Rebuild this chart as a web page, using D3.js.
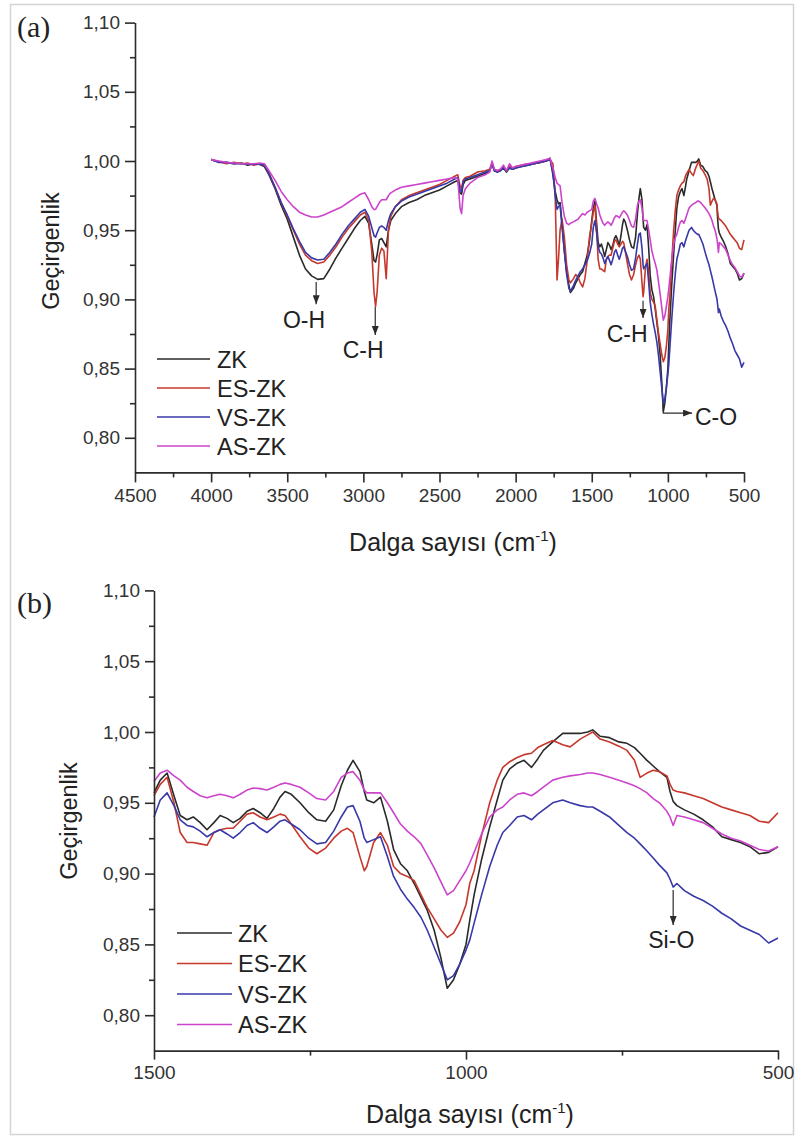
<!DOCTYPE html>
<html>
<head>
<meta charset="utf-8">
<script src="https://cdn.jsdelivr.net/npm/d3@7"></script>
<style>
  html, body { margin: 0; padding: 0; background: #fff; }
  svg { display: block; font-family: "Liberation Sans", Arial, sans-serif; }
</style>
</head>
<body>
<svg id="chart" width="795" height="1137"></svg>
<script>
// FTIR spectra: wavenumber (cm-1) and transmittance of each sample
const waveNumber = [
  4000, 3950, 3900, 3850, 3800, 3760, 3720, 3680, 3650, 3620,
  3580, 3540, 3500, 3460, 3420, 3380, 3340, 3300, 3260, 3220,
  3180, 3140, 3100, 3060, 3020, 2990, 2965, 2945, 2930, 2920,
  2910, 2895, 2880, 2865, 2850, 2835, 2820, 2790, 2750, 2700,
  2650, 2600, 2550, 2500, 2450, 2400, 2380, 2365, 2355, 2345,
  2330, 2300, 2250, 2200, 2170, 2155, 2140, 2120, 2100, 2080,
  2060, 2040, 2020, 2000, 1960, 1920, 1880, 1840, 1800, 1774,
  1755, 1740, 1728, 1718, 1708, 1695, 1680, 1665, 1650, 1640,
  1620, 1605, 1590, 1575, 1560, 1545, 1530, 1515,
  1500, 1490, 1479, 1468, 1458, 1447, 1437, 1426, 1415, 1404,
  1394, 1383, 1373, 1362, 1351, 1341, 1330, 1319, 1308, 1298,
  1290, 1280, 1266, 1252, 1239, 1225, 1212, 1200, 1190, 1181,
  1170, 1163, 1159, 1148, 1137, 1126, 1116, 1105, 1094, 1083,
  1072, 1062, 1051, 1040, 1030, 1020, 1010, 1000, 994, 987,
  975, 962, 950, 941, 930, 918, 907, 895, 885, 876,
  861, 845, 833, 817, 805, 797, 785, 770, 755, 742,
  730, 721, 710, 700, 690, 678, 673, 668, 662, 650,
  635, 620, 605, 590, 575, 560, 545, 530, 515, 500
];

const zk = [
  1.001, 0.9995, 0.999, 0.998, 0.9985, 0.997, 0.998, 0.9975, 0.996, 0.990,
  0.980, 0.968, 0.958, 0.945, 0.932, 0.922, 0.917, 0.9145, 0.915, 0.922,
  0.930, 0.937, 0.944, 0.951, 0.957, 0.960, 0.955, 0.940, 0.928, 0.927,
  0.932, 0.943, 0.944, 0.941, 0.938, 0.950, 0.957, 0.962, 0.967, 0.970,
  0.972, 0.975, 0.977, 0.979, 0.982, 0.985, 0.986, 0.977, 0.976, 0.983,
  0.986, 0.987, 0.989, 0.991, 0.993, 0.998, 0.993, 0.992, 0.993, 0.995,
  0.992, 0.995, 0.994, 0.995, 0.996, 0.997, 0.998, 0.999, 1.000, 1.002,
  0.990, 0.978, 0.972, 0.969, 0.970, 0.955, 0.935, 0.920, 0.910, 0.905,
  0.908, 0.912, 0.915, 0.918, 0.920, 0.926, 0.932, 0.942,
  0.957, 0.966, 0.971, 0.955, 0.941, 0.938, 0.940, 0.936, 0.931, 0.936,
  0.941, 0.939, 0.936, 0.939, 0.944, 0.946, 0.943, 0.939, 0.946, 0.954,
  0.958, 0.956, 0.950, 0.943, 0.938, 0.937, 0.945, 0.962, 0.973, 0.980,
  0.972, 0.958, 0.952, 0.950, 0.954, 0.937, 0.917, 0.907, 0.902, 0.893,
  0.883, 0.874, 0.860, 0.840, 0.819, 0.825, 0.836, 0.850, 0.867, 0.885,
  0.910, 0.933, 0.952, 0.966, 0.974, 0.978, 0.980, 0.975, 0.981, 0.987,
  0.993, 0.999, 0.999, 0.999, 1.000, 1.0015, 0.997, 0.996, 0.993, 0.992,
  0.989, 0.985, 0.980, 0.976, 0.972, 0.968, 0.958, 0.951, 0.948, 0.945,
  0.942, 0.938, 0.933, 0.926, 0.924, 0.922, 0.919, 0.914, 0.915, 0.919
];

const esZk = [
  1.001, 0.9995, 0.998, 0.999, 0.998, 0.9985, 0.997, 0.998, 0.997, 0.991,
  0.981, 0.970, 0.960, 0.950, 0.940, 0.932, 0.928, 0.926, 0.927, 0.932,
  0.938, 0.945, 0.951, 0.956, 0.961, 0.963, 0.957, 0.935, 0.905, 0.895,
  0.905, 0.932, 0.937, 0.935, 0.915, 0.950, 0.960, 0.967, 0.972, 0.975,
  0.977, 0.979, 0.981, 0.983, 0.986, 0.989, 0.990, 0.982, 0.980, 0.986,
  0.988, 0.989, 0.992, 0.993, 0.994, 0.999, 0.994, 0.993, 0.994, 0.996,
  0.993, 0.996, 0.995, 0.996, 0.997, 0.998, 0.998, 0.999, 1.000, 1.001,
  0.998, 0.975, 0.914, 0.930, 0.950, 0.958, 0.945, 0.925, 0.914, 0.912,
  0.915, 0.918, 0.916, 0.912, 0.909, 0.915, 0.928, 0.945,
  0.955, 0.963, 0.968, 0.950, 0.929, 0.922, 0.922, 0.921, 0.920, 0.929,
  0.931, 0.932, 0.932, 0.937, 0.942, 0.943, 0.940, 0.938, 0.940, 0.942,
  0.941, 0.935, 0.926, 0.918, 0.914, 0.918, 0.925, 0.930, 0.932, 0.929,
  0.912, 0.902, 0.905, 0.922, 0.929, 0.920, 0.905, 0.900, 0.898, 0.895,
  0.885, 0.876, 0.868, 0.860, 0.855, 0.858, 0.866, 0.878, 0.893, 0.902,
  0.927, 0.950, 0.966, 0.975, 0.979, 0.982, 0.984, 0.985, 0.989, 0.991,
  0.994, 0.991, 0.9895, 0.995, 0.998, 1.000, 0.995, 0.993, 0.990, 0.987,
  0.980, 0.968, 0.971, 0.973, 0.972, 0.969, 0.963, 0.959, 0.958, 0.957,
  0.955, 0.953, 0.950, 0.947, 0.945, 0.943, 0.941, 0.937, 0.936, 0.943
];

const vsZk = [
  1.001, 0.999, 0.999, 0.998, 0.998, 0.998, 0.9975, 0.998, 0.997, 0.991,
  0.981, 0.970, 0.961, 0.951, 0.942, 0.934, 0.930, 0.9285, 0.929, 0.934,
  0.940, 0.947, 0.953, 0.958, 0.963, 0.965, 0.960, 0.952, 0.946, 0.945,
  0.948, 0.952, 0.953, 0.952, 0.950, 0.957, 0.962, 0.967, 0.971, 0.974,
  0.976, 0.978, 0.980, 0.982, 0.984, 0.987, 0.988, 0.979, 0.978, 0.985,
  0.987, 0.988, 0.990, 0.992, 0.993, 0.998, 0.993, 0.992, 0.993, 0.995,
  0.993, 0.995, 0.994, 0.995, 0.996, 0.997, 0.998, 0.999, 1.000, 1.001,
  0.992, 0.975, 0.965, 0.967, 0.968, 0.952, 0.935, 0.918, 0.908, 0.906,
  0.910, 0.914, 0.917, 0.920, 0.922, 0.925, 0.928, 0.933,
  0.940, 0.952, 0.957, 0.948, 0.938, 0.934, 0.933, 0.930, 0.926, 0.929,
  0.931, 0.928, 0.925, 0.929, 0.934, 0.936, 0.932, 0.929, 0.933, 0.937,
  0.938, 0.935, 0.931, 0.925, 0.921, 0.922, 0.930, 0.940, 0.947, 0.948,
  0.937, 0.925, 0.922, 0.924, 0.926, 0.912, 0.898, 0.889, 0.882, 0.876,
  0.869, 0.860, 0.848, 0.836, 0.825, 0.828, 0.836, 0.846, 0.853, 0.865,
  0.885, 0.905, 0.920, 0.929, 0.934, 0.940, 0.941, 0.938, 0.942, 0.945,
  0.950, 0.952, 0.950, 0.948, 0.947, 0.947, 0.944, 0.940, 0.934, 0.929,
  0.925, 0.921, 0.916, 0.911, 0.906, 0.9005, 0.896, 0.8905, 0.893, 0.888,
  0.884, 0.881, 0.877, 0.872, 0.868, 0.863, 0.860, 0.857, 0.851, 0.8545
];

const asZk = [
  1.001, 1.000, 0.999, 0.9985, 0.998, 0.998, 0.998, 0.9985, 0.998, 0.993,
  0.986, 0.978, 0.972, 0.967, 0.963, 0.961, 0.9595, 0.9595, 0.961, 0.963,
  0.965, 0.967, 0.970, 0.973, 0.976, 0.977, 0.972, 0.967, 0.965, 0.965,
  0.967, 0.970, 0.972, 0.972, 0.972, 0.975, 0.977, 0.979, 0.981, 0.982,
  0.983, 0.984, 0.985, 0.986, 0.987, 0.988, 0.987, 0.966, 0.962, 0.975,
  0.980, 0.984, 0.988, 0.990, 0.992, 1.000, 0.994, 0.993, 0.994, 0.997,
  0.993, 0.998, 0.995, 0.996, 0.997, 0.998, 0.999, 1.000, 1.001, 1.002,
  0.995, 0.988, 0.984, 0.983, 0.982, 0.970, 0.960, 0.955, 0.954, 0.955,
  0.956, 0.957, 0.958, 0.960, 0.962, 0.961, 0.963, 0.964,
  0.965, 0.971, 0.973, 0.969, 0.966, 0.961, 0.958, 0.955, 0.9535, 0.955,
  0.956, 0.955, 0.9535, 0.956, 0.959, 0.9605, 0.960, 0.959, 0.961, 0.963,
  0.964, 0.963, 0.961, 0.957, 0.953, 0.952, 0.958, 0.968, 0.971, 0.972,
  0.966, 0.959, 0.957, 0.957, 0.957, 0.950, 0.943, 0.935, 0.930, 0.926,
  0.921, 0.913, 0.904, 0.894, 0.885, 0.888, 0.895, 0.902, 0.9075, 0.915,
  0.928, 0.940, 0.945, 0.947, 0.952, 0.956, 0.957, 0.955, 0.958, 0.961,
  0.966, 0.968, 0.969, 0.970, 0.971, 0.971, 0.970, 0.968, 0.966, 0.964,
  0.962, 0.960, 0.957, 0.953, 0.950, 0.944, 0.940, 0.934, 0.941, 0.940,
  0.938, 0.936, 0.932, 0.928, 0.925, 0.923, 0.920, 0.917, 0.916, 0.919
];

const seriesNames = ["ZK", "ES-ZK", "VS-ZK", "AS-ZK"];
const seriesValues = [zk, esZk, vsZk, asZk];

const yTicks = [0.80, 0.85, 0.90, 0.95, 1.00, 1.05, 1.10];
const yMinorTicks = [0.825, 0.875, 0.925, 0.975, 1.025, 1.075];
const xTicksFull = [4500, 4000, 3500, 3000, 2500, 2000, 1500, 1000, 500];
const xMinorFull = [4250, 3750, 3250, 2750, 2250, 1750, 1250, 750];
const xTicksZoom = [1500, 1000, 500];
const xMinorZoom = [1250, 750];

// Band assignments: arrow path and label anchor in (wavenumber, transmittance)
const bandsFull = [
  { label: "O-H", path: [[3310, 0.9125], [3310, 0.8965]], at: [3390, 0.8793], anchor: "middle" },
  { label: "C-H", path: [[2922, 0.8945], [2922, 0.8743]], at: [3002, 0.8577], anchor: "middle" },
  { label: "C-H", path: [[1163, 0.8990], [1163, 0.8866]], at: [1268, 0.8692], anchor: "middle" },
  { label: "C-O", path: [[1030, 0.8237], [1030, 0.8179], [841, 0.8179]], at: [822, 0.8092], anchor: "start" }
];
const bandsZoom = [
  { label: "Si-O", path: [[668, 0.8885], [668, 0.8637]], at: [671, 0.8475], anchor: "middle" }
];

const colors = ["#2a2a2a", "#c6382c", "#3838a8", "#cc44cc"];
const ink = "#2b2b2b";
const sans = "'Liberation Sans', Arial, sans-serif";
const serif = "'Liberation Serif', 'Times New Roman', serif";

const svg = d3.select("#chart");
const locale = d3.formatLocale({ decimal: ",", thousands: ".", grouping: [3], currency: ["", ""] });
const fmt = locale.format(".2f");

svg.append("rect")
  .attr("x", 10.5).attr("y", 4.5).attr("width", 783).attr("height", 1130)
  .attr("fill", "none").attr("stroke", "#d4d4d4").attr("stroke-width", 1.5);

const defs = svg.append("defs");
defs.append("marker")
  .attr("id", "head")
  .attr("viewBox", "0 0 9 7")
  .attr("refX", 9).attr("refY", 3.5)
  .attr("markerWidth", 9).attr("markerHeight", 7)
  .attr("markerUnits", "userSpaceOnUse")
  .attr("orient", "auto")
  .append("path").attr("d", "M0,0 L9,3.5 L0,7 Z").attr("fill", ink);

function label(sel) {
  return sel.style("font-family", sans).style("fill", "#222");
}

function drawPanel(cfg) {
  const g = svg.append("g");
  const x = d3.scaleLinear().domain(cfg.xDomain).range([cfg.left, cfg.right]);
  const y = d3.scaleLinear().domain([0.775, 1.10]).range([cfg.bottom, cfg.top]);

  const lo = Math.min(...cfg.xDomain), hi = Math.max(...cfg.xDomain);
  const idx = d3.range(waveNumber.length).filter(i => waveNumber[i] >= lo && waveNumber[i] <= hi);
  const line = d3.line().x(i => x(waveNumber[i])).curve(d3.curveLinear);

  seriesValues.forEach((vals, s) => {
    g.append("path")
      .datum(idx)
      .attr("fill", "none")
      .attr("stroke", colors[s])
      .attr("stroke-width", 1.6)
      .attr("stroke-linejoin", "round")
      .attr("d", line.y(i => y(vals[i])));
  });

  // axes
  const yAxis = g.append("g").attr("transform", `translate(${cfg.left},0)`)
    .call(d3.axisLeft(y).tickValues(yTicks).tickSize(cfg.major).tickSizeOuter(0).tickPadding(5).tickFormat(fmt));
  const yMinor = g.append("g").attr("transform", `translate(${cfg.left},0)`)
    .call(d3.axisLeft(y).tickValues(yMinorTicks).tickSize(cfg.minor).tickFormat(""));
  yMinor.select(".domain").remove();

  const xAxis = g.append("g").attr("transform", `translate(0,${cfg.bottom})`)
    .call(d3.axisBottom(x).tickValues(cfg.xTicks).tickSize(cfg.major).tickSizeOuter(0).tickPadding(6).tickFormat(d3.format("d")));
  const xMinor = g.append("g").attr("transform", `translate(0,${cfg.bottom})`)
    .call(d3.axisBottom(x).tickValues(cfg.xMinor).tickSize(cfg.minor).tickFormat(""));
  xMinor.select(".domain").remove();

  [yAxis, yMinor, xAxis, xMinor].forEach(a => {
    a.selectAll("path, line").attr("stroke", ink).attr("stroke-width", 1.6);
    a.selectAll("text").attr("font-size", 19).style("fill", "#333").style("font-family", sans);
  });

  // axis titles
  label(g.append("text"))
    .attr("transform", `translate(${cfg.yTitle[0]},${cfg.yTitle[1]}) rotate(-90)`)
    .attr("text-anchor", "middle").attr("font-size", 23.5)
    .text("Geçirgenlik");

  const xt = label(g.append("text"))
    .attr("x", cfg.xTitle[0]).attr("y", cfg.xTitle[1])
    .attr("text-anchor", "middle").attr("font-size", 25);
  xt.append("tspan").text("Dalga sayısı (cm");
  xt.append("tspan").attr("dy", -10).attr("font-size", 15).text("-1");
  xt.append("tspan").attr("dy", 10).text(")");

  // panel letter
  g.append("text")
    .attr("x", 17).attr("y", cfg.letterY)
    .style("font-family", serif).style("fill", "#222")
    .attr("font-size", 30)
    .text(cfg.letter);

  // legend
  seriesNames.forEach((name, s) => {
    const ly = cfg.legend.y0 + s * cfg.legend.dy;
    g.append("line")
      .attr("x1", cfg.legend.x1).attr("x2", cfg.legend.x2)
      .attr("y1", ly).attr("y2", ly)
      .attr("stroke", colors[s]).attr("stroke-width", 1.6);
    label(g.append("text"))
      .attr("x", cfg.legend.tx).attr("y", ly + 8.5)
      .attr("font-size", 23.5)
      .text(name);
  });

  // band annotations
  cfg.bands.forEach(b => {
    g.append("path")
      .attr("d", d3.line()(b.path.map(p => [x(p[0]), y(p[1])])))
      .attr("fill", "none").attr("stroke", ink).attr("stroke-width", 1.2)
      .attr("marker-end", "url(#head)");
    label(g.append("text"))
      .attr("x", x(b.at[0])).attr("y", y(b.at[1]))
      .attr("text-anchor", b.anchor).attr("font-size", 23)
      .text(b.label);
  });
}

drawPanel({
  xDomain: [4500, 500], left: 135, right: 744, top: 22.6, bottom: 472.4,
  xTicks: xTicksFull, xMinor: xMinorFull, major: 10, minor: 5,
  yTitle: [59, 251], xTitle: [453, 551],
  letter: "(a)", letterY: 37,
  legend: { x1: 157, x2: 210, tx: 217, y0: 359, dy: 29 },
  bands: bandsFull
});

drawPanel({
  xDomain: [1500, 500], left: 154, right: 778, top: 590.4, bottom: 1050.6,
  xTicks: xTicksZoom, xMinor: xMinorZoom, major: 9, minor: 5,
  yTitle: [77, 821], xTitle: [470, 1123],
  letter: "(b)", letterY: 613,
  legend: { x1: 177, x2: 232, tx: 238, y0: 933, dy: 30.5 },
  bands: bandsZoom
});
</script>
</body>
</html>
